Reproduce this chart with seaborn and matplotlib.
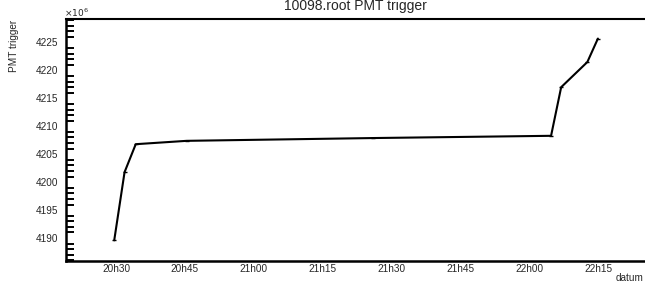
import matplotlib
matplotlib.use("Agg")
import matplotlib.pyplot as plt
import matplotlib.dates as mdates
from matplotlib.ticker import MultipleLocator
import seaborn as sns
import pandas as pd

# Data (values in units of 10^6)
times = ["20:29:36", "20:31:51", "20:34:17", "20:45:22", "21:26:00",
         "22:04:42", "22:06:54", "22:12:36", "22:14:54"]
pmt_trigger = [4189.6, 4201.8, 4206.8, 4207.4, 4207.9,
               4208.3, 4217.0, 4221.5, 4225.7]
title = "10098.root PMT trigger"
xlabel = "datum"
ylabel = "PMT trigger"

df = pd.DataFrame({
    "datum": pd.to_datetime(["2000-01-01 " + t for t in times]),
    "PMT trigger": pmt_trigger,
})

sns.set_style("white")
plt.rcParams["font.family"] = ["Liberation Sans", "DejaVu Sans"]

W, H = 645, 284
fig = plt.figure(figsize=(W / 100, H / 100), dpi=100)
ax = fig.add_axes([66 / W, 1 - 261 / H, 1 - 66 / W, (261 - 19) / H])

sns.lineplot(data=df, x="datum", y="PMT trigger", ax=ax, color="black",
             linewidth=1.5, marker="_", markersize=2.5, markeredgewidth=1.0,
             markeredgecolor="black", markerfacecolor="black",
             sort=False, estimator=None)

ax.set_xlim(pd.Timestamp("2000-01-01 20:19:06"), pd.Timestamp("2000-01-01 22:25:09"))
ax.set_ylim(4185.9, 4229.2)

ax.xaxis.set_major_locator(mdates.MinuteLocator(byminute=[0, 15, 30, 45]))
ax.xaxis.set_major_formatter(mdates.DateFormatter("%Hh%M"))
ax.yaxis.set_major_locator(MultipleLocator(5))
ax.yaxis.set_minor_locator(MultipleLocator(1))

ax.tick_params(axis="y", which="major", direction="in", length=12, width=1.4,
               labelsize=7.2, pad=5.8, color="black")
ax.tick_params(axis="y", which="minor", direction="in", length=5.8, width=1.4,
               left=True, color="black")
ax.tick_params(axis="x", which="major", direction="in", length=4.8, width=1.4,
               labelsize=7.2, pad=2, color="black")
ax.tick_params(axis="x", which="minor", bottom=False)

for s in ["left", "bottom"]:
    ax.spines[s].set_linewidth(1.8)
    ax.spines[s].set_color("black")
ax.spines["top"].set_linewidth(1.5)
ax.spines["top"].set_color("black")
ax.spines["right"].set_visible(False)

ax.set_xlabel("")
ax.set_ylabel("")

fig.text(355 / W, 1 - 10 / H, title, ha="center", va="baseline", fontsize=10)
fig.text(14 / W, 1 - 20 / H, ylabel, rotation=90, ha="center", va="top", fontsize=7.2)
fig.text(643 / W, 1 - 278 / H, xlabel, ha="right", va="center", fontsize=7.2)
fig.text(64 / W, 1 - 19 / H, r"$\times10^{6}$", ha="left", va="bottom", fontsize=6.5)

fig.savefig("out.png", dpi=100)
